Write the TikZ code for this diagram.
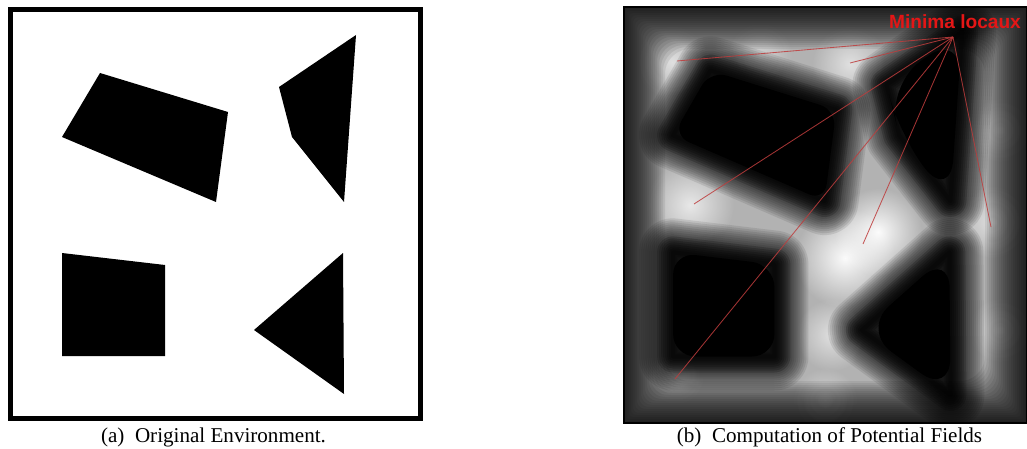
\documentclass[tikz,border=0pt]{standalone}
\usepackage{fontspec}
\setmainfont{Liberation Serif}
\newfontfamily\labelfont{Liberation Sans}
\usetikzlibrary{fadings}
\tikzfading[name=glowfade,inner color=transparent!0,outer color=transparent!100]
\definecolor{minred}{RGB}{228,22,22}
\definecolor{linered}{RGB}{190,60,60}
\newcommand{\blurred}[2][12]{%
  \foreach \w in {68,64,...,4}{\draw[halo,line width=\w*0.25mm] #2 -- cycle;}
  \foreach \w in {32,28,...,4}{\draw[halo,opacity=0.12,line width=\w*0.25mm] #2 -- cycle;}
  \fill[core,rounded corners=#1] #2 -- cycle;}
\newcommand{\glow}[4]{\fill[white,opacity=#4,path fading=glowfade] (#1,#2) circle (#3);}

\begin{document}
\begin{tikzpicture}[x=0.25mm,y=-0.25mm,
  every node/.style={inner sep=0pt},
  obst/.style={fill=black},
  halo/.style={draw=black,opacity=0.09,line join=round},
  core/.style={fill=black},
  caption/.style={font=\fontsize{15}{18}\selectfont},
  pointer/.style={draw=linered,line width=0.6pt,opacity=0.85}]
\useasboundingbox (0,0) rectangle (1027,449);

\draw[line width=5*0.25mm] (10.5,9.5) rectangle (420.5,418.5);
\fill[obst] (100,73) -- (228,112) -- (216,202) -- (62,137) -- cycle;
\fill[obst] (356,35) -- (279,87) -- (292,137) -- (344,202) -- cycle;
\fill[obst] (62,253) -- (165,265) -- (165,356) -- (62,356) -- cycle;
\fill[obst] (343,253) -- (254,330) -- (344,394) -- cycle;
\node[caption] (capa) at (213.5,437) {(a)~~Original Environment.};

\begin{scope}
\clip (623,7) rectangle (1027,423);
\fill[black!30] (623,7) rectangle (1027,423);
\glow{845}{258}{50}{0.95}
\glow{878}{232}{44}{0.95}
\glow{832}{335}{36}{0.6}
\glow{825}{400}{32}{0.45}
\glow{690}{205}{44}{0.7}
\glow{672}{62}{36}{0.6}
\glow{850}{64}{38}{0.6}
\glow{760}{55}{32}{0.4}
\glow{992}{222}{36}{0.6}
\glow{1000}{130}{32}{0.4}
\glow{1000}{330}{32}{0.4}
\glow{676}{376}{28}{0.35}
\foreach \w in {84,80,...,4}{\draw[halo,opacity=0.07,rounded corners=\w*0.2mm,line width=\w*0.25mm] (623,7) rectangle (1027,423);}
\draw[line width=3*0.25mm] (623,7) rectangle (1027,423);
\blurred{(710.5,70.6) -- (836.3,110) -- (824.5,201) -- (673.1,135.3)}
\blurred[30]{(962.1,32.3) -- (886.5,84.8) -- (899.2,135.3) -- (950.4,201)}
\blurred[16]{(673.1,252.4) -- (774.4,264.6) -- (774.4,356.5) -- (673.1,356.5)}
\blurred[26]{(949.4,252.4) -- (861.9,330.2) -- (950.4,394.8)}
\end{scope}

\node[font=\labelfont\bfseries\fontsize{13.6}{16}\selectfont,text=minred] (minima) at (955,22) {Minima locaux};
\coordinate (hub) at (953,37);
\coordinate (m1) at (677,61);
\coordinate (m2) at (850,63);
\coordinate (m3) at (694,204);
\coordinate (m4) at (675,379);
\coordinate (m5) at (863,244);
\coordinate (m6) at (991,227);
\foreach \m in {m1,m2,m3,m4,m5,m6}{\draw[pointer] (hub) -- (\m);}
\node[caption] (capb) at (829.5,437) {(b)~~Computation of Potential Fields};
\end{tikzpicture}
\end{document}
